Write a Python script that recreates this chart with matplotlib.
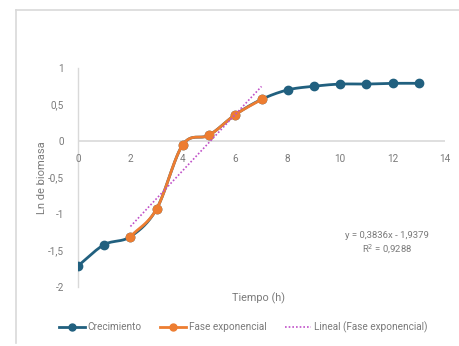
import numpy as np
import matplotlib
matplotlib.use("Agg")
import matplotlib.pyplot as plt
from matplotlib.lines import Line2D
from matplotlib import font_manager

# Growth curve data: time (h) vs ln(biomass)
tiempo = [0, 1, 2, 3, 4, 5, 6, 7, 8, 9, 10, 11, 12, 13]
ln_biomasa = [-1.71, -1.42, -1.31, -0.93, -0.05, 0.08, 0.36, 0.57, 0.70, 0.75, 0.78, 0.78, 0.79, 0.79]

# Exponential phase subset
tiempo_exp = [2, 3, 4, 5, 6, 7]
ln_exp = [-1.31, -0.93, -0.05, 0.08, 0.36, 0.57]

# Linear trend of the exponential phase
pendiente = 0.3836
intercepto = -1.9379
r2 = 0.9288

x_ticks = [0, 2, 4, 6, 8, 10, 12, 14]
y_ticks = [1, 0.5, 0, -0.5, -1, -1.5, -2]

BLUE = "#21607f"
ORANGE = "#ed7d31"
TREND = "#c050c8"
GREY_TXT = "#7a7a7a"
GRID = "#d9d9d9"

available = {f.name for f in font_manager.fontManager.ttflist}
fam = "Liberation Sans Narrow" if "Liberation Sans Narrow" in available else "Roboto"
plt.rcParams["font.family"] = [fam, "DejaVu Sans"]


def smooth(xs, ys, n=20):
    """Bezier smoothing through points (like a smoothed line chart)."""
    xs = np.asarray(xs, float)
    ys = np.asarray(ys, float)
    px = np.concatenate([[2 * xs[0] - xs[1]], xs, [2 * xs[-1] - xs[-2]]])
    py = np.concatenate([[2 * ys[0] - ys[1]], ys, [2 * ys[-1] - ys[-2]]])
    ox, oy = [], []
    tension = 1 / 6
    for i in range(1, len(px) - 2):
        p0x, p1x, p2x, p3x = px[i - 1], px[i], px[i + 1], px[i + 2]
        p0y, p1y, p2y, p3y = py[i - 1], py[i], py[i + 1], py[i + 2]
        c1x = p1x + (p2x - p0x) * tension
        c1y = p1y + (p2y - p0y) * tension
        c2x = p2x - (p3x - p1x) * tension
        c2y = p2y - (p3y - p1y) * tension
        t = np.linspace(0, 1, n)
        bx = (1 - t) ** 3 * p1x + 3 * (1 - t) ** 2 * t * c1x + 3 * (1 - t) * t ** 2 * c2x + t ** 3 * p2x
        by = (1 - t) ** 3 * p1y + 3 * (1 - t) ** 2 * t * c1y + 3 * (1 - t) * t ** 2 * c2y + t ** 3 * p2y
        ox.extend(bx)
        oy.extend(by)
    return np.array(ox), np.array(oy)


W, H = 459, 346
fig = plt.figure(figsize=(W / 100, H / 100), dpi=100)
fig.patch.set_facecolor("white")

# chart frame (top and left edges)
fig.add_artist(Line2D([16 / W, 1.0], [1 - 10 / H, 1 - 10 / H], color=GRID, lw=1.2))
fig.add_artist(Line2D([16 / W, 16 / W], [1 - 10 / H, 1 - 343 / H], color=GRID, lw=1.2))

ax = fig.add_axes([78 / W, 1 - 287 / H, (445 - 78) / W, (287 - 68) / H])
ax.set_xlim(0, 14)
ax.set_ylim(-2, 1)
for s in ["top", "right", "bottom"]:
    ax.spines[s].set_visible(False)
ax.spines["left"].set_color(GRID)
ax.spines["left"].set_linewidth(1.0)
ax.set_xticks([])
ax.set_yticks(y_ticks)
ax.set_yticklabels([f"{v:g}".replace(".", ",") for v in y_ticks], color=GREY_TXT, fontsize=7.2)
ax.tick_params(axis="y", length=0, pad=10)
ax.axhline(0, color=GRID, lw=1.2, zorder=1)
for xt in x_ticks:
    ax.text(xt, -0.245, str(xt), ha="center", va="center", color=GREY_TXT, fontsize=7.2)

sx, sy = smooth(tiempo, ln_biomasa)
ax.plot(sx, sy, color=BLUE, lw=2.0, zorder=3)
ax.plot(tiempo, ln_biomasa, "o", color=BLUE, ms=6, zorder=4)

ex, ey = smooth(tiempo_exp, ln_exp)
ax.plot(ex, ey, color=ORANGE, lw=2.0, zorder=5)
ax.plot(tiempo_exp, ln_exp, "o", color=ORANGE, ms=6, zorder=6)

tx = np.array([tiempo_exp[0], tiempo_exp[-1]], float)
ax.plot(tx, pendiente * tx + intercepto, color=TREND, lw=1.2, ls=(0, (1, 1.2)), zorder=7)

ax.text(11.8, -1.3, f"y = {pendiente:.4f}x - {abs(intercepto):.4f}".replace(".", ","),
        ha="center", va="center", color=GREY_TXT, fontsize=6.8)
ax.text(11.8, -1.49, f"R$^2$ = {r2:.4f}".replace(".", ","),
        ha="center", va="center", color=GREY_TXT, fontsize=6.8)

fig.text(42 / W, 1 - 178 / H, "Ln de biomasa", rotation=90, ha="center", va="center",
         color=GREY_TXT, fontsize=8)
fig.text(258 / W, 1 - 298 / H, "Tiempo (h)", ha="center", va="center",
         color=GREY_TXT, fontsize=7.8)

handles = [
    Line2D([], [], color=BLUE, lw=2.0, marker="o", ms=5),
    Line2D([], [], color=ORANGE, lw=2.0, marker="o", ms=5),
    Line2D([], [], color=TREND, lw=1.2, ls=(0, (1, 1.2))),
]
labels = ["Crecimiento", "Fase exponencial", "Lineal (Fase exponencial)"]
fig.legend(handles, labels, loc="center", bbox_to_anchor=(243 / W, 1 - 327 / H), ncol=3,
           frameon=False, fontsize=7.2, labelcolor=GREY_TXT, handlelength=2.6,
           handletextpad=0.3, columnspacing=1.8)

fig.savefig("out.png", dpi=100, facecolor="white")
